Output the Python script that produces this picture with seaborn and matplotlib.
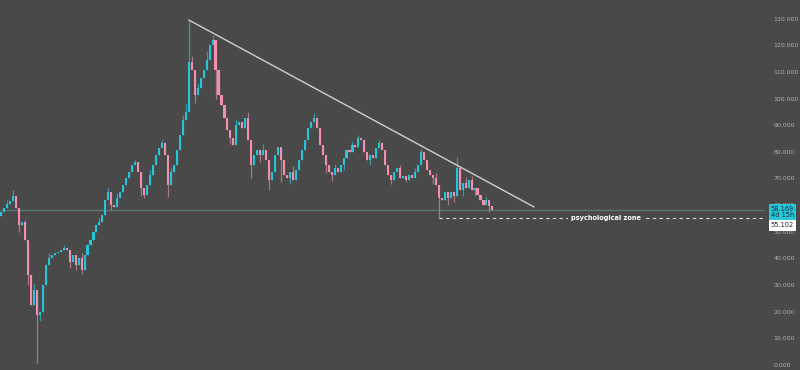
import matplotlib
matplotlib.use("Agg")
import matplotlib.pyplot as plt
import matplotlib.transforms as mtransforms
import seaborn as sns
import pandas as pd

# daily closes (price units)
closes = [57.4, 58.9, 60.4, 61.5, 63.4, 58.9, 52.5, 53.7, 46.9, 33.8,
          22.5, 28.1, 18.8, 19.9, 30.0, 37.5, 40.2, 41.3, 42.0, 42.4,
          43.2, 43.9, 43.2, 38.7, 41.3, 37.5, 40.2, 35.7, 41.3, 45.0,
          46.9, 49.9, 52.5, 53.7, 56.3, 61.9, 64.9, 60.0, 59.3, 62.7,
          64.9, 67.6, 70.2, 72.4, 75.1, 76.2, 72.4, 66.4, 63.8, 67.6,
          71.3, 75.1, 78.8, 81.4, 83.3, 78.8, 67.6, 72.4, 75.1, 80.7,
          86.3, 91.9, 95.0, 113.7, 110.7, 101.3, 104.0, 107.7, 110.7, 114.5,
          120.1, 122.0, 110.7, 101.3, 97.6, 92.7, 88.2, 85.2, 82.6, 90.1,
          91.2, 88.9, 92.7, 84.4, 75.1, 78.8, 80.7, 78.8, 80.7, 76.9,
          69.4, 72.4, 78.8, 81.8, 76.9, 71.3, 70.2, 72.4, 69.4, 73.2,
          76.9, 80.7, 84.4, 88.9, 91.2, 92.7, 88.9, 82.6, 78.8, 75.1,
          72.4, 71.3, 73.9, 72.4, 75.1, 77.7, 80.7, 79.9, 82.6, 81.8,
          85.2, 84.4, 79.9, 76.9, 78.8, 77.7, 81.4, 83.3, 80.7, 75.1,
          71.3, 69.4, 72.4, 73.9, 70.2, 70.9, 69.4, 71.3, 70.2, 72.4,
          75.1, 79.9, 76.9, 73.2, 71.3, 70.2, 67.6, 62.7, 61.9, 64.9,
          62.7, 64.9, 63.4, 73.9, 65.7, 68.3, 66.4, 69.4, 65.7, 66.4,
          63.8, 61.9, 60.0, 61.9, 59.7, 58.169]
first_open = 56.0

# notable wicks (candle index -> price)
wick_highs = {2: 61.8, 4: 65.7, 8: 54.5, 11: 30.5, 16: 42.0, 21: 45.0,
              27: 42.0, 33: 55.0, 36: 66.5, 39: 64.5, 45: 77.0, 50: 73.0,
              54: 84.5, 57: 74.0, 61: 94.0, 62: 98.0, 63: 129.5, 64: 116.0,
              66: 106.0, 69: 118.0, 71: 123.8, 73: 105.0, 79: 92.5, 83: 95.0,
              88: 83.0, 93: 82.0, 98: 74.5, 103: 86.5, 105: 94.6, 112: 75.5,
              118: 84.0, 120: 86.5, 127: 84.5, 134: 75.0, 139: 74.0,
              141: 80.9, 146: 72.0, 153: 77.9, 156: 70.5, 158: 71.0, 163: 63.0}
wick_lows = {6: 50.0, 9: 30.0, 12: 0.7, 13: 16.5, 14: 26.0, 23: 36.5,
             25: 35.5, 27: 34.0, 37: 58.0, 47: 63.5, 48: 62.5, 56: 63.0,
             65: 98.5, 72: 100.0, 77: 83.0, 84: 70.0, 87: 76.0, 90: 65.5,
             94: 68.5, 97: 68.0, 109: 72.0, 111: 69.0, 115: 73.0, 124: 75.0,
             131: 68.0, 136: 68.5, 145: 68.0, 147: 55.1, 150: 60.0,
             152: 61.0, 155: 63.5, 159: 63.5, 164: 57.5}

last_price = 58.169
support = 55.102
countdown = "4d 15h"
trend_start = (63, 129.5)
trend_end = (179, 59.3)
yticks = list(range(0, 140, 10))

df = pd.DataFrame({"close": closes})
df["open"] = [first_open] + closes[:-1]
df["high"] = [max(o, c, wick_highs.get(i, 0)) for i, (o, c) in enumerate(zip(df["open"], df["close"]))]
df["low"] = [min(o, c, wick_lows.get(i, 1e9)) for i, (o, c) in enumerate(zip(df["open"], df["close"]))]
df["up"] = df["close"] >= df["open"]

bg = "#494949"
up_col = "#26c6da"
dn_col = "#f48fb1"

sns.set_theme(style="dark", rc={"axes.facecolor": bg, "figure.facecolor": bg})
plt.rcParams["font.family"] = ["DejaVu Sans"]

fig = plt.figure(figsize=(8, 3.7), dpi=100)
ax = fig.add_axes([0, 0, 0.956, 1])

colors = [up_col if u else dn_col for u in df["up"]]
wick_colors = ["#3f97a3" if u else "#a6788a" for u in df["up"]]
ax.vlines(df.index, df["low"], df["high"], colors=wick_colors, linewidth=0.9, zorder=2)
body = (df["close"] - df["open"]).abs().clip(lower=0.35)
ax.bar(df.index, body, bottom=df[["open", "close"]].min(axis=1), width=0.7,
       color=colors, linewidth=0, zorder=3)

ax.axhline(last_price, color="#557878", linewidth=0.9, zorder=1)
ax.plot([trend_start[0], trend_end[0]], [trend_start[1], trend_end[1]],
        color="#cfcfcf", linewidth=1.0, zorder=4)
ax.plot([147, 300], [support, support], color="#dcdcdc", linewidth=0.8,
        linestyle=(0, (3, 3)), zorder=4)
ax.text(203, support, "psychological zone", color="white", fontsize=4.8,
        fontweight="bold", ha="center", va="center", zorder=5,
        bbox=dict(facecolor=bg, edgecolor="none", pad=1.5))

ax.set_xlim(-0.4, 256.5)
ax.set_ylim(-1.9, 137.0)
ax.yaxis.tick_right()
ax.set_yticks(yticks)
ax.set_yticklabels([f"{v:.3f}" for v in yticks])
ax.tick_params(axis="y", length=0, pad=6.5, labelsize=4.5, labelcolor="#b0b0b0")
ax.set_xticks([])
for s in ax.spines.values():
    s.set_visible(False)
ax.grid(False)

tr = mtransforms.blended_transform_factory(ax.transAxes, ax.transData)
ax.text(1.008, last_price + 1.5, f"{last_price:.3f}\n{countdown}", transform=tr,
        fontsize=4.8, color="#1b2a2e", ha="left", va="top", linespacing=1.05,
        clip_on=False, zorder=6,
        bbox=dict(facecolor=up_col, edgecolor="none", pad=1.6))
ax.text(1.008, 52.4, f"{support:.3f}", transform=tr,
        fontsize=4.8, color="#222222", ha="left", va="center", clip_on=False,
        zorder=6, bbox=dict(facecolor="white", edgecolor="none", pad=1.6))

fig.savefig("out.png", dpi=100, facecolor=bg)
